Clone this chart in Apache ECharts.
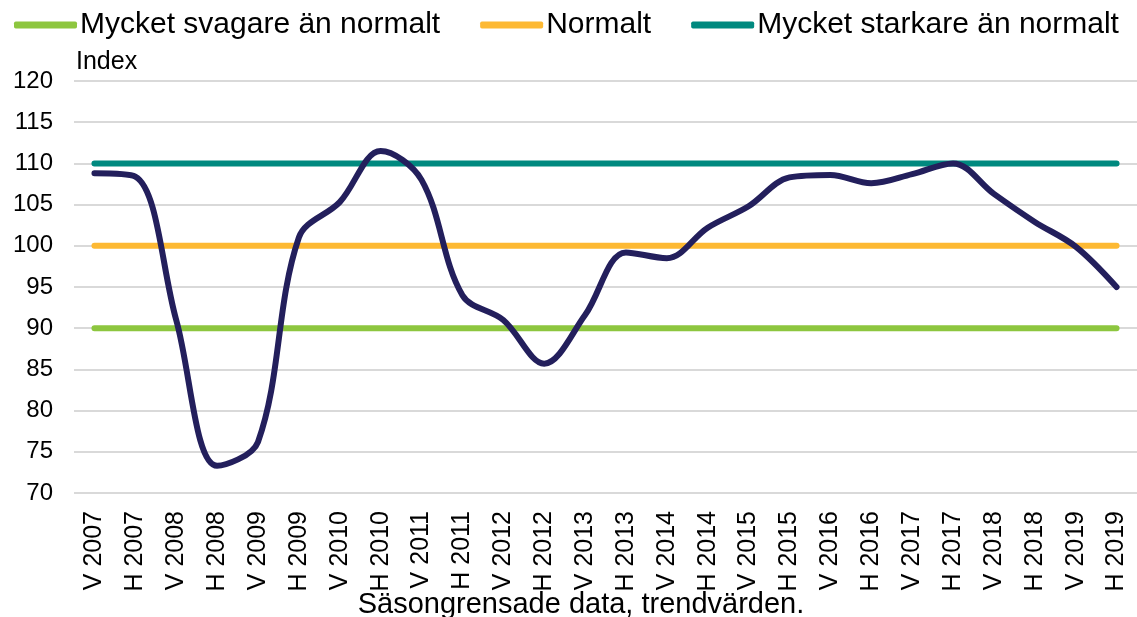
<!DOCTYPE html>
<html>
<head>
    <meta charset="UTF-8">
    <title>Index</title>
    <script src="https://cdn.jsdelivr.net/npm/echarts@6/dist/echarts.min.js"></script>
    <style>
        html, body { margin: 0; padding: 0; background: #fff; }
        #main { width: 1137px; height: 617px; }
    </style>
</head>
<body>
<div id="main"></div>

<script>
    // halvår: V = vår, H = höst
    var categories = ['V 2007', 'H 2007', 'V 2008', 'H 2008', 'V 2009', 'H 2009', 'V 2010', 'H 2010',
        'V 2011', 'H 2011', 'V 2012', 'H 2012', 'V 2013', 'H 2013', 'V 2014', 'H 2014', 'V 2015',
        'H 2015', 'V 2016', 'H 2016', 'V 2017', 'H 2017', 'V 2018', 'H 2018', 'V 2019', 'H 2019'];

    var indexValues = [108.8, 108.4, 91.0, 73.3, 76.2, 101.0, 105.3, 111.5, 108.0, 94.0, 91.0, 85.7,
        91.6, 99.2, 98.5, 102.2, 104.8, 108.3, 108.6, 107.6, 108.7, 110.0, 106.3, 102.9, 99.9, 95.0];

    var svagare = [90, 90, 90, 90, 90, 90, 90, 90, 90, 90, 90, 90, 90, 90, 90, 90, 90, 90, 90, 90, 90, 90, 90, 90, 90, 90];
    var normalt = [100, 100, 100, 100, 100, 100, 100, 100, 100, 100, 100, 100, 100, 100, 100, 100, 100, 100, 100, 100, 100, 100, 100, 100, 100, 100];
    var starkare = [110, 110, 110, 110, 110, 110, 110, 110, 110, 110, 110, 110, 110, 110, 110, 110, 110, 110, 110, 110, 110, 110, 110, 110, 110, 110];

    var font = 'Liberation Sans, Arial, sans-serif';

    function refLine(name, color, data) {
        return {
            name: name,
            type: 'line',
            data: data,
            symbol: 'none',
            silent: true,
            lineStyle: { color: color, width: 6, cap: 'round' },
            itemStyle: { color: color }
        };
    }

    var option = {
        animation: false,
        backgroundColor: '#fff',
        textStyle: { fontFamily: font },
        legend: {
            data: ['Mycket svagare än normalt', 'Normalt', 'Mycket starkare än normalt'],
            left: 9,
            top: 5,
            icon: 'roundRect',
            itemWidth: 63,
            itemHeight: 7,
            itemGap: 40,
            textStyle: { fontSize: 30, color: '#000', fontFamily: font, padding: [0, 0, 0, -2] }
        },
        grid: {
            left: 74,
            right: -3,
            top: 81,
            bottom: 124
        },
        xAxis: {
            type: 'category',
            data: categories,
            boundaryGap: true,
            axisLine: { show: false },
            axisTick: { show: false },
            axisLabel: {
                rotate: 90,
                interval: 0,
                margin: 18,
                fontSize: 25,
                color: '#000',
                fontFamily: font
            }
        },
        yAxis: {
            type: 'value',
            min: 70,
            max: 120,
            interval: 5,
            axisLine: { show: false },
            axisTick: { show: false },
            splitLine: { lineStyle: { color: '#d9d9d9', width: 2 } },
            axisLabel: { fontSize: 24, color: '#000', margin: 21, fontFamily: font }
        },
        graphic: [
            {
                type: 'text',
                left: 76,
                top: 50,
                style: { text: 'Index', fontSize: 25, fill: '#000', fontFamily: font }
            },
            {
                type: 'text',
                x: 581,
                y: 605,
                style: {
                    text: 'Säsongrensade data, trendvärden.',
                    fontSize: 29,
                    fill: '#000',
                    fontFamily: font,
                    align: 'center',
                    verticalAlign: 'middle'
                }
            }
        ],
        series: [
            refLine('Mycket svagare än normalt', '#8dc63f', svagare),
            refLine('Normalt', '#fdb933', normalt),
            refLine('Mycket starkare än normalt', '#00897f', starkare),
            {
                name: 'Index',
                type: 'line',
                data: indexValues,
                symbol: 'none',
                smooth: 0.35,
                lineStyle: { color: '#231f5c', width: 6, cap: 'round', join: 'round' },
                itemStyle: { color: '#231f5c' },
                z: 5
            }
        ]
    };

    var myChart = echarts.init(document.getElementById('main'));
    myChart.setOption(option);
</script>
</body>
</html>
